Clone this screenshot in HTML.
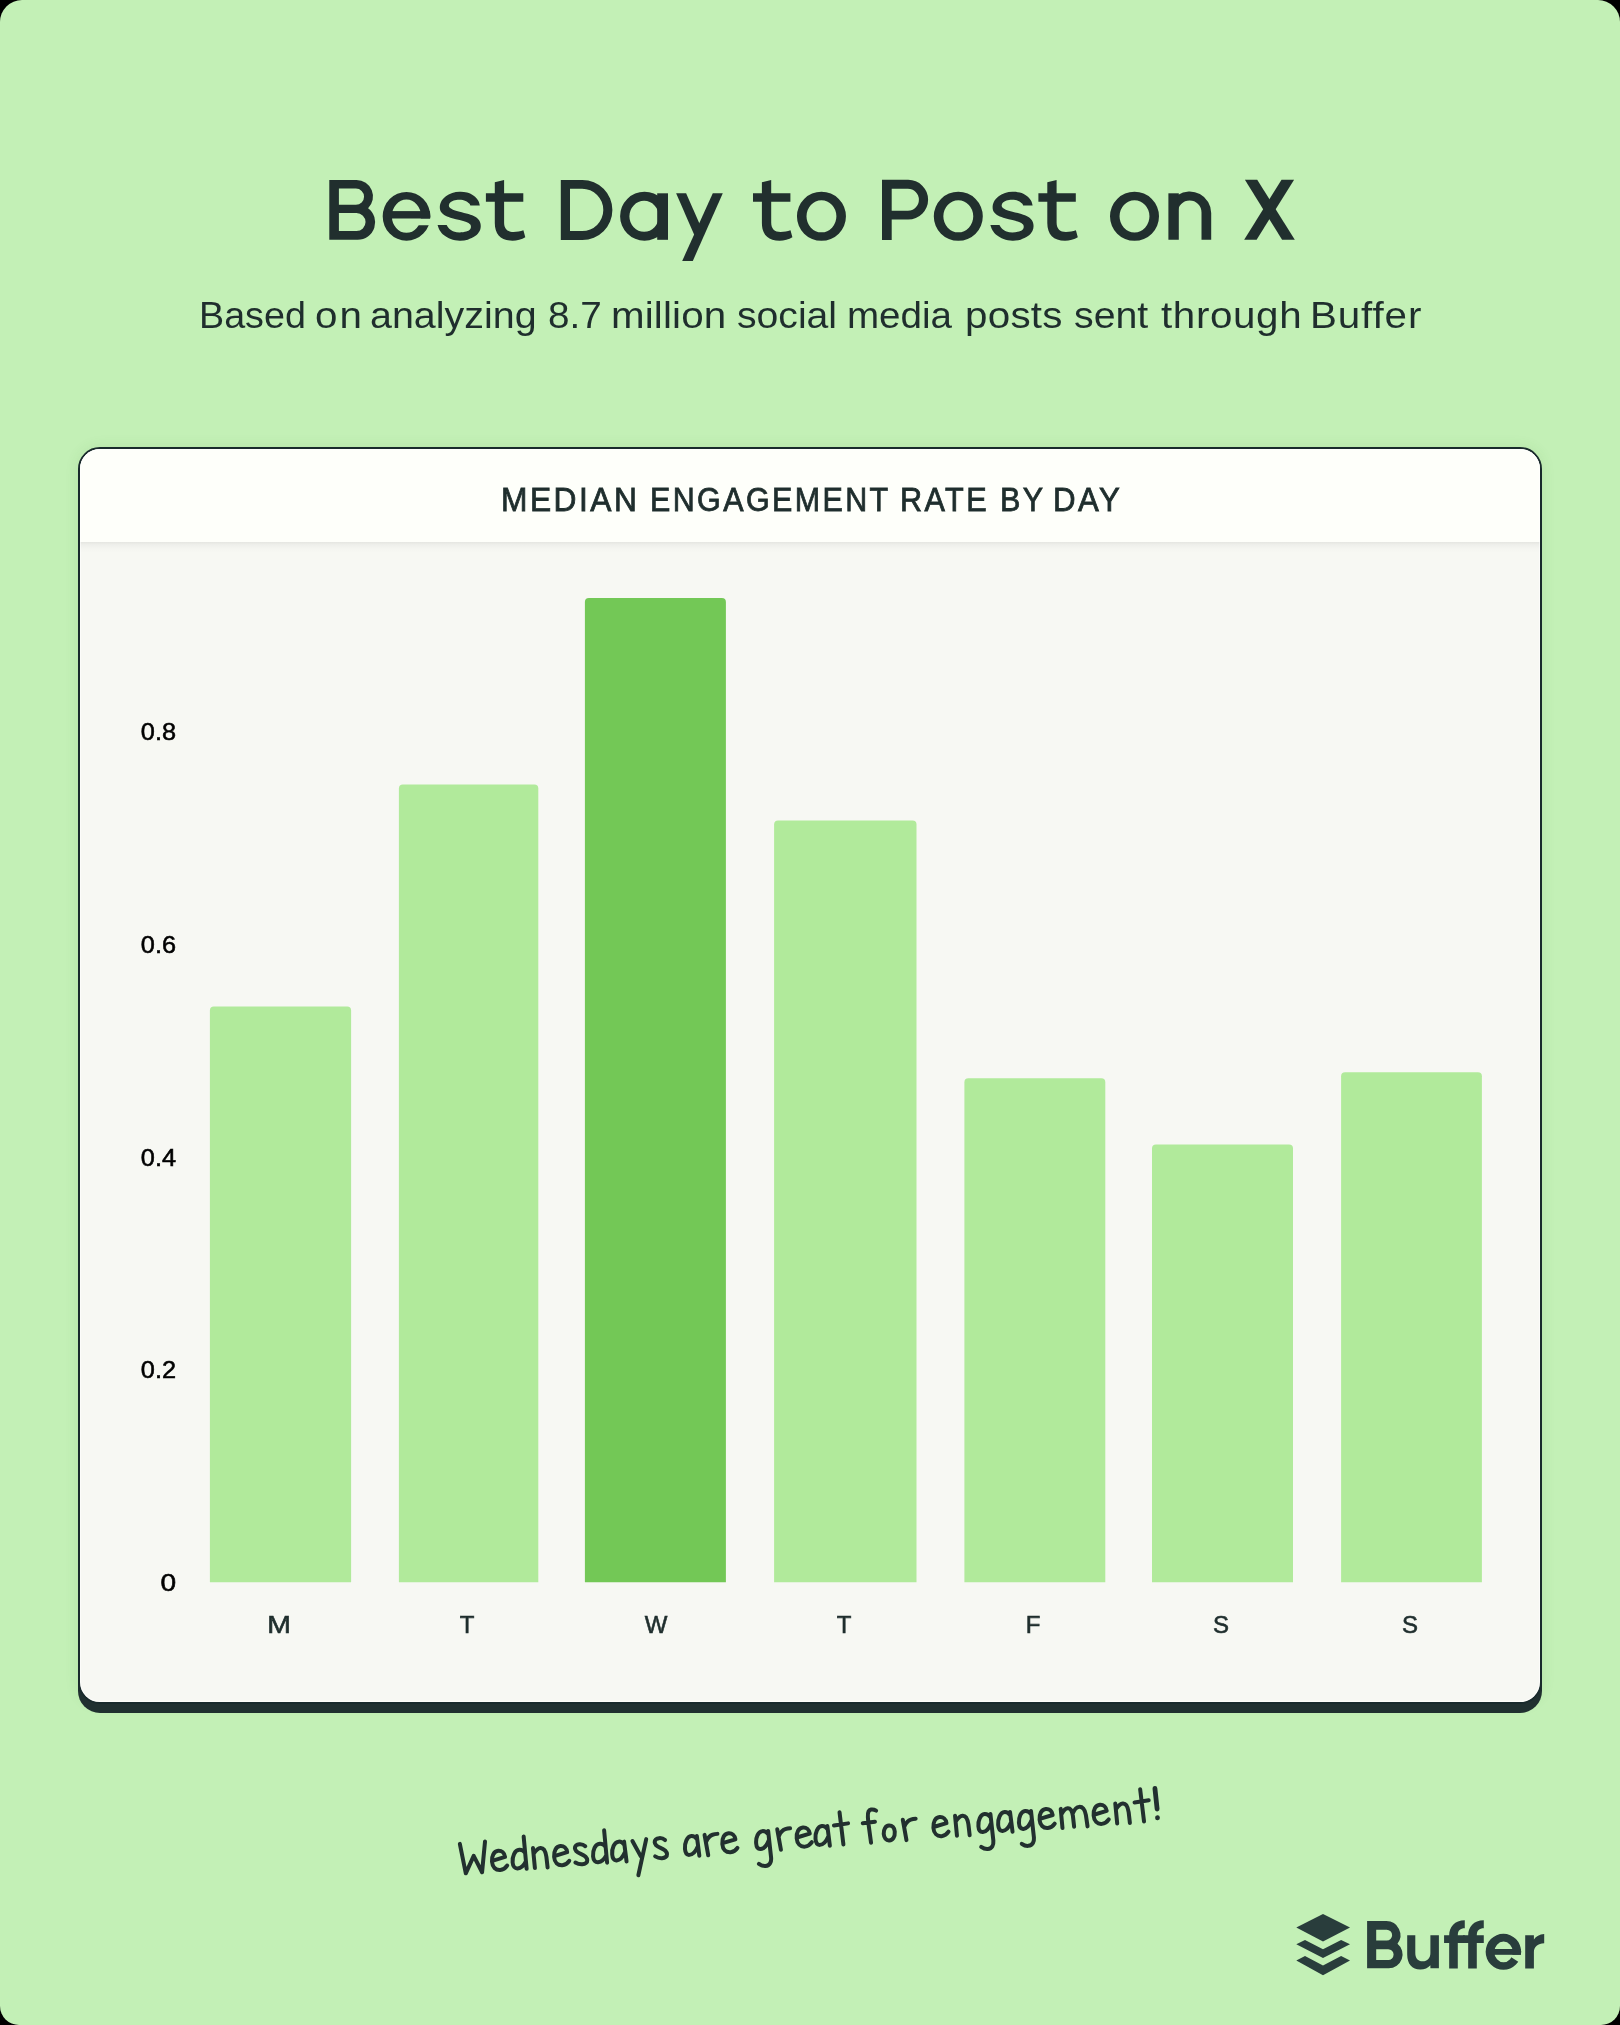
<!DOCTYPE html>
<html lang="en">
<head>
<meta charset="utf-8">
<title>Best Day to Post on X</title>
<style>
  html, body { margin: 0; padding: 0; background: #000; }
  body { width: 1620px; height: 2025px; overflow: hidden; position: relative;
         font-family: "Liberation Sans", sans-serif; }
  .page { position: absolute; left: 0; top: 0; width: 1620px; height: 2025px;
          background: #c3f0b6; border-radius: 22px 22px 19px 19px; overflow: hidden; will-change: transform; }
  .abs { position: absolute; white-space: nowrap; }
  .sw { position: absolute; top: 290.5px; white-space: nowrap; color: #1f2e2d;
        font-size: 36px; line-height: 50px; transform-origin: 0 0; }
  .card { position: absolute; left: 78px; top: 447px; width: 1460px; height: 1253px;
          border: 2px solid #192a2c; border-radius: 22px; background: #f7f8f3;
          box-shadow: 0 9px 0 0 #203030, 0 0 14px rgba(60,120,40,0.10); overflow: hidden; }
  .card-head { position: absolute; left: 0; top: 0; width: 100%; height: 93px; background: #fefffa; }
  .card-head::after { content: ""; position: absolute; left: 0; top: 93px; width: 100%; height: 11px;
          background: linear-gradient(rgba(0,0,0,0.075), rgba(0,0,0,0.035) 25%, rgba(0,0,0,0.012) 60%, rgba(0,0,0,0)); }
  .card::after { content: ""; position: absolute; left: 0; top: 0; right: 0; bottom: 0; border-radius: 20px;
          box-shadow: inset 0 0 0 1px rgba(255,255,255,0.6); pointer-events: none; }
  .card-head span { position: absolute; top: 31px; white-space: nowrap; transform-origin: 0 0;
          font-size: 33px; line-height: 40px; letter-spacing: 2.6px; color: #1f2e2d;
          -webkit-text-stroke: 0.8px #1f2e2d; }
  .yl { position: absolute; width: 60px; text-align: right; color: #000; font-size: 23px; line-height: 24px;
        transform-origin: 100% 50%; transform: scaleX(1.10); -webkit-text-stroke: 0.55px #000; }
  .xl { position: absolute; width: 60px; text-align: center; color: #1f2e2d; font-size: 24px; line-height: 24px;
        -webkit-text-stroke: 0.6px #1f2e2d; }
</style>
</head>
<body>
<div class="page">
  <!-- title: Best Day to Post on X -->
  <svg class="abs" style="left:300px; top:160px;" width="1020" height="120" viewBox="300 160 1020 120" role="img" aria-label="Best Day to Post on X">
   <title>Best Day to Post on X</title>
   <g fill="#212f2e" fill-rule="evenodd">
    <path d="M329.3,180 H356.50 A16.50,16.50 0 0 1 368.10,208.23 A17.50,17.50 0 0 1 357.70,239.8 H329.3 Z M338.9,188.5 V204.8 H355.9 A8.15,8.15 0 0 0 355.9,188.5 Z M338.9,213 V231.1 H356.5 A9.05,9.05 0 0 0 356.5,213 Z"/>
    <clipPath id="eclip"><path d="M370,170 H440 V218.5 H406.5 V225.2 H440 V260 H370 Z"/></clipPath>
    <clipPath id="eout"><ellipse cx="406.5" cy="216.3" rx="23.8" ry="24.4"/></clipPath>
    <path d="M382.70,216.30 A23.80,24.40 0 1 0 430.30,216.30 A23.80,24.40 0 1 0 382.70,216.30 Z M391.90,216.20 A14.55,16.60 0 1 1 421.00,216.20 A14.55,16.60 0 1 1 391.90,216.20 Z" clip-path="url(#eclip)"/>
    <rect x="386" y="211.1" width="46" height="7.4" clip-path="url(#eout)"/>
    <path d="M479.81,205.56 C479.54,204.72 479.17,202.19 478.15,200.56 C477.13,198.92 475.56,197.07 473.70,195.74 C471.85,194.41 469.38,193.24 467.04,192.59 C464.69,191.94 462.10,191.79 459.63,191.85 C457.16,191.91 454.57,192.19 452.22,192.96 C449.88,193.73 447.41,195.03 445.56,196.48 C443.70,197.93 442.07,199.88 441.11,201.67 C440.15,203.46 439.81,205.49 439.81,207.22 C439.81,208.95 440.15,210.62 441.11,212.04 C442.07,213.46 443.70,214.72 445.56,215.74 C447.41,216.76 449.88,217.44 452.22,218.15 C454.57,218.86 457.28,219.35 459.63,220.00 C461.98,220.65 464.57,221.33 466.30,222.04 C468.02,222.75 469.23,223.46 470.00,224.26 C470.77,225.06 470.93,225.99 470.93,226.85 C470.93,227.72 470.77,228.67 470.00,229.44 C469.23,230.22 468.02,230.99 466.30,231.48 C464.57,231.98 461.73,232.41 459.63,232.41 C457.53,232.41 455.43,232.10 453.70,231.48 C451.98,230.86 450.43,229.78 449.26,228.70 C448.09,227.62 447.10,225.62 446.67,225.00 L437.59,225.00 C437.93,225.86 438.55,228.46 439.63,230.19 C440.71,231.91 442.22,233.89 444.07,235.37 C445.93,236.85 448.15,238.18 450.74,239.07 C453.33,239.97 456.79,240.65 459.63,240.74 C462.47,240.83 465.19,240.40 467.78,239.63 C470.37,238.86 473.21,237.56 475.19,236.11 C477.16,234.66 478.70,232.65 479.63,230.93 C480.56,229.20 480.80,227.47 480.74,225.74 C480.68,224.01 480.19,222.04 479.26,220.56 C478.33,219.07 476.98,217.93 475.19,216.85 C473.40,215.77 471.11,214.94 468.52,214.07 C465.93,213.21 462.22,212.41 459.63,211.67 C457.04,210.93 454.63,210.31 452.96,209.63 C451.30,208.95 450.31,208.33 449.63,207.59 C448.95,206.85 448.80,206.02 448.89,205.19 C448.98,204.35 449.38,203.36 450.19,202.59 C450.99,201.82 452.13,201.02 453.70,200.56 C455.28,200.09 457.65,199.75 459.63,199.81 C461.60,199.88 463.95,200.31 465.56,200.93 C467.16,201.54 468.46,202.75 469.26,203.52 C470.06,204.29 470.19,205.22 470.37,205.56 Z" transform="translate(0.0,0)"/>
    <path d="M479.81,205.56 C479.54,204.72 479.17,202.19 478.15,200.56 C477.13,198.92 475.56,197.07 473.70,195.74 C471.85,194.41 469.38,193.24 467.04,192.59 C464.69,191.94 462.10,191.79 459.63,191.85 C457.16,191.91 454.57,192.19 452.22,192.96 C449.88,193.73 447.41,195.03 445.56,196.48 C443.70,197.93 442.07,199.88 441.11,201.67 C440.15,203.46 439.81,205.49 439.81,207.22 C439.81,208.95 440.15,210.62 441.11,212.04 C442.07,213.46 443.70,214.72 445.56,215.74 C447.41,216.76 449.88,217.44 452.22,218.15 C454.57,218.86 457.28,219.35 459.63,220.00 C461.98,220.65 464.57,221.33 466.30,222.04 C468.02,222.75 469.23,223.46 470.00,224.26 C470.77,225.06 470.93,225.99 470.93,226.85 C470.93,227.72 470.77,228.67 470.00,229.44 C469.23,230.22 468.02,230.99 466.30,231.48 C464.57,231.98 461.73,232.41 459.63,232.41 C457.53,232.41 455.43,232.10 453.70,231.48 C451.98,230.86 450.43,229.78 449.26,228.70 C448.09,227.62 447.10,225.62 446.67,225.00 L437.59,225.00 C437.93,225.86 438.55,228.46 439.63,230.19 C440.71,231.91 442.22,233.89 444.07,235.37 C445.93,236.85 448.15,238.18 450.74,239.07 C453.33,239.97 456.79,240.65 459.63,240.74 C462.47,240.83 465.19,240.40 467.78,239.63 C470.37,238.86 473.21,237.56 475.19,236.11 C477.16,234.66 478.70,232.65 479.63,230.93 C480.56,229.20 480.80,227.47 480.74,225.74 C480.68,224.01 480.19,222.04 479.26,220.56 C478.33,219.07 476.98,217.93 475.19,216.85 C473.40,215.77 471.11,214.94 468.52,214.07 C465.93,213.21 462.22,212.41 459.63,211.67 C457.04,210.93 454.63,210.31 452.96,209.63 C451.30,208.95 450.31,208.33 449.63,207.59 C448.95,206.85 448.80,206.02 448.89,205.19 C448.98,204.35 449.38,203.36 450.19,202.59 C450.99,201.82 452.13,201.02 453.70,200.56 C455.28,200.09 457.65,199.75 459.63,199.81 C461.60,199.88 463.95,200.31 465.56,200.93 C467.16,201.54 468.46,202.75 469.26,203.52 C470.06,204.29 470.19,205.22 470.37,205.56 Z" transform="translate(552.8,0)"/>
    <path d="M494.80,182.2 L504.10,180 V193.2 H523.30 V201.85 H504.10 V222.5 C504.10,229 507.50,232 513.50,232 C517.10,232 520.30,231.4 523.40,230.3 L525.30,237.3 C521.90,239.5 516.90,240.7 512.50,240.7 C501.00,240.7 494.80,234.5 494.80,223 V201.85 H485.90 V193.2 H494.80 Z"/>
    <path d="M761.90,182.2 L771.20,180 V193.2 H790.40 V201.85 H771.20 V222.5 C771.20,229 774.60,232 780.60,232 C784.20,232 787.40,231.4 790.50,230.3 L792.40,237.3 C789.00,239.5 784.00,240.7 779.60,240.7 C768.10,240.7 761.90,234.5 761.90,223 V201.85 H753.00 V193.2 H761.90 Z"/>
    <path d="M1047.30,182.2 L1056.60,180 V193.2 H1075.80 V201.85 H1056.60 V222.5 C1056.60,229 1060.00,232 1066.00,232 C1069.60,232 1072.80,231.4 1075.90,230.3 L1077.80,237.3 C1074.40,239.5 1069.40,240.7 1065.00,240.7 C1053.50,240.7 1047.30,234.5 1047.30,223 V201.85 H1038.40 V193.2 H1047.30 Z"/>
    <path d="M560.8,180 H582.4 A30,30 0 0 1 582.4,240 H560.8 Z M570,188.7 V231.1 H582.1 A21.2,21.2 0 0 0 582.1,188.7 Z"/>
    <clipPath id="aclip"><rect x="600" y="170" width="68" height="90"/></clipPath>
    <path d="M620.10,216.20 A24.40,24.50 0 1 0 668.90,216.20 A24.40,24.50 0 1 0 620.10,216.20 Z M629.40,216.30 A14.70,15.40 0 1 1 658.80,216.30 A14.70,15.40 0 1 1 629.40,216.30 Z" clip-path="url(#aclip)"/>
    <rect x="657.2" y="193.3" width="10.8" height="46.5"/>
    <path d="M712.8,193.3 H722.8 L692.8,260.9 H682.2 Z"/>
    <path d="M676.1,193.3 H686.1 L701.4,227.9 L696.3,239.6 Z"/>
    <path d="M796.95,216.30 A24.50,24.55 0 1 0 845.95,216.30 A24.50,24.55 0 1 0 796.95,216.30 Z M806.50,216.30 A14.95,16.05 0 1 1 836.40,216.30 A14.95,16.05 0 1 1 806.50,216.30 Z"/>
    <path d="M933.80,216.30 A24.50,24.55 0 1 0 982.80,216.30 A24.50,24.55 0 1 0 933.80,216.30 Z M943.35,216.30 A14.95,16.05 0 1 1 973.25,216.30 A14.95,16.05 0 1 1 943.35,216.30 Z"/>
    <path d="M1110.00,216.30 A24.50,24.55 0 1 0 1159.00,216.30 A24.50,24.55 0 1 0 1110.00,216.30 Z M1119.55,216.30 A14.95,16.05 0 1 1 1149.45,216.30 A14.95,16.05 0 1 1 1119.55,216.30 Z"/>
    <path d="M882,179.8 H908.2 A19.9,19.9 0 0 1 908.2,219.6 H891.7 V239.9 H882 Z M891.7,188.7 V210.7 H907.9 A11,11 0 0 0 907.9,188.7 Z"/>
    <rect x="1168.4" y="193.3" width="10.4" height="46.45"/>
    <path d="M1177.8,194.95 A21.55,21.55 0 0 1 1211.2,212.95 V239.75 H1201.5 V212.4 A11.85,11.85 0 0 0 1177.8,212.4 Z"/>
    <path d="M1244.9,179.7 H1257.2 L1294.8,239.75 H1282.1 Z"/>
    <path d="M1281.5,179.7 H1294.1 L1256.6,239.75 H1244.2 Z"/>
   </g>
  </svg>
  <!-- subtitle -->
  <div class="sw" style="left:198.6px; transform:scaleX(1.047); letter-spacing:0.00px;">Based</div>
  <div class="sw" style="left:315.3px; transform:scaleX(1.120); letter-spacing:1.77px;">on</div>
  <div class="sw" style="left:370.3px; transform:scaleX(1.095); letter-spacing:0.00px;">analyzing</div>
  <div class="sw" style="left:547.5px; transform:scaleX(1.074); letter-spacing:0.00px;">8.7</div>
  <div class="sw" style="left:611.4px; transform:scaleX(1.120); letter-spacing:0.14px;">million</div>
  <div class="sw" style="left:737.2px; transform:scaleX(1.087); letter-spacing:0px;">social</div>
  <div class="sw" style="left:847.3px; transform:scaleX(1.071); letter-spacing:0.00px;">media</div>
  <div class="sw" style="left:964.6px; transform:scaleX(1.120); letter-spacing:0.25px;">posts</div>
  <div class="sw" style="left:1073.6px; transform:scaleX(1.091); letter-spacing:0.00px;">sent</div>
  <div class="sw" style="left:1160.6px; transform:scaleX(1.120); letter-spacing:0.57px;">through</div>
  <div class="sw" style="left:1310.4px; transform:scaleX(1.120); letter-spacing:0.80px;">Buffer</div>

  <div class="card">
    <div class="card-head"><span style="left:421.1px; transform:scaleX(0.962);">MEDIAN</span><span style="left:569.5px; transform:scaleX(0.923);">ENGAGEMENT</span><span style="left:819.8px; transform:scaleX(0.928);">RATE</span><span style="left:919.6px; transform:scaleX(0.925);">BY</span><span style="left:973.4px; transform:scaleX(0.946);">DAY</span></div>
  </div>

  <!-- bars (page coordinates) -->
  <svg class="abs" style="left:0; top:560px;" width="1620" height="1040" viewBox="0 560 1620 1040">
    <path d="M209.9,1582.2 L209.9,1010.4 Q209.9,1006.4 213.9,1006.4 L347.1,1006.4 Q351.1,1006.4 351.1,1010.4 L351.1,1582.2 Z" fill="#b1ea9b"/>
    <path d="M398.9,1582.2 L398.9,788.5 Q398.9,784.5 402.9,784.5 L534.3,784.5 Q538.3,784.5 538.3,788.5 L538.3,1582.2 Z" fill="#b1ea9b"/>
    <path d="M584.9,1582.2 L584.9,602.1 Q584.9,598.1 588.9,598.1 L721.9,598.1 Q725.9,598.1 725.9,602.1 L725.9,1582.2 Z" fill="#73c856"/>
    <path d="M774.1,1582.2 L774.1,824.5 Q774.1,820.5 778.1,820.5 L912.5,820.5 Q916.5,820.5 916.5,824.5 L916.5,1582.2 Z" fill="#b1ea9b"/>
    <path d="M964.4,1582.2 L964.4,1082.3 Q964.4,1078.3 968.4,1078.3 L1101.3,1078.3 Q1105.3,1078.3 1105.3,1082.3 L1105.3,1582.2 Z" fill="#b1ea9b"/>
    <path d="M1152.0,1582.2 L1152.0,1148.4 Q1152.0,1144.4 1156.0,1144.4 L1289.0,1144.4 Q1293.0,1144.4 1293.0,1148.4 L1293.0,1582.2 Z" fill="#b1ea9b"/>
    <path d="M1341.1,1582.2 L1341.1,1076.3 Q1341.1,1072.3 1345.1,1072.3 L1477.9,1072.3 Q1481.9,1072.3 1481.9,1076.3 L1481.9,1582.2 Z" fill="#b1ea9b"/>
  </svg>

  <!-- y labels -->
  <div class="yl" style="left:116px; top:719.5px;">0.8</div>
  <div class="yl" style="left:116px; top:932.5px;">0.6</div>
  <div class="yl" style="left:116px; top:1145.5px;">0.4</div>
  <div class="yl" style="left:116px; top:1358px;">0.2</div>
  <div class="yl" style="left:116px; top:1570.5px; transform:scaleX(1.22);">0</div>

  <!-- x labels -->
  <div class="xl" style="left:248.5px; top:1613px; transform:scaleX(1.18);">M</div>
  <div class="xl" style="left:437px; top:1613px;">T</div>
  <div class="xl" style="left:626px; top:1613px;">W</div>
  <div class="xl" style="left:814px; top:1613px;">T</div>
  <div class="xl" style="left:1003px; top:1613px;">F</div>
  <div class="xl" style="left:1191px; top:1613px;">S</div>
  <div class="xl" style="left:1380px; top:1613px;">S</div>

  <!-- handwritten note -->
  <svg class="abs" style="left:0; top:1760px;" width="1620" height="180" viewBox="0 1760 1620 180" role="img" aria-label="Wednesdays are great for engagement!">
    <title>Wednesdays are great for engagement!</title>
    <defs>
      <path id="hw0" d="M0,-29.5 L3.7,0.3 L12.9,-16.5 L20,0.5 L25.3,-30"/>
      <path id="hw1" d="M1.1,-10.3 L13.4,-13 C13.2,-17 10.5,-19.6 7,-19.6 C2.8,-19.6 0,-15.2 0,-9.3 C0,-3.8 3,-0.4 7.6,-0.4 C10.6,-0.4 13,-2 14.8,-4.3"/>
      <path id="hw2" d="M13,-32 L13.5,0.5 M13.2,-15.5 C11.5,-18.3 9.5,-19 7.6,-19 C3,-19 0,-13 0,-7 C0,-3 2,-0.6 4.5,-0.6 C8,-0.6 11,-3 13.3,-7"/>
      <path id="hw3" d="M12.8,-19.2 L13.8,0.7 M12.6,-16.3 C11,-18.8 9.5,-19.6 7.4,-19.6 C3,-19.6 0,-13.5 0,-7.3 C0,-3.3 1.6,-1 4,-1 C7.5,-1 10.5,-4 12.8,-8.5"/>
      <path id="hw4" d="M0,-19.8 L0.4,0.4 M0.5,-14.3 C3,-17.5 5,-19.2 7.5,-19.2 C11,-19.2 12.3,-15.5 12.7,-10 L13.1,0.8"/>
      <path id="hw5" d="M11.1,-17.6 C9.5,-19.3 7.5,-20 5.4,-20 C2.5,-20 0.6,-18.5 0.6,-16.4 C0.6,-13.5 2.5,-12 5.5,-10.5 C9,-8.8 12,-7 12,-3.5 C12,-1.2 9.8,0.2 6.8,0.2 C4,0.2 1.8,-0.8 0,-2.1"/>
      <path id="hw6" d="M0,-19.1 L7.2,-3.2 M13.9,-20 L3.3,15.4"/>
      <path id="hw7" d="M0,-19.8 L2.1,0.9 M1.1,-12.9 C3,-16.5 5,-18.6 8,-19.3 C9.8,-19.7 11.5,-19.8 12.9,-19.8"/>
      <path id="hw8" d="M12.4,-15.9 C11,-18.2 9,-19.1 7,-19.1 C3,-19.1 0,-13.5 0,-7.4 C0,-3.5 1.6,-1.4 4,-1.4 C7.5,-1.4 10.5,-4.5 13,-9.8 M12.9,-18.7 L13.8,8.2 C13.8,12 12.2,15.9 7.5,15.9 C5,15.9 3,14.8 1.2,13.3"/>
      <path id="hw9" d="M6.6,-32 L8,0.5 M0,-19.2 L14.3,-20.3"/>
      <path id="hw10" d="M14.3,-30.9 C12.8,-32 11,-32.5 9.4,-32.4 C6.5,-32 5.6,-29 5.6,-25 L5.6,-19.9 L6.8,0.8 M0,-19.2 L12.3,-19.9"/>
      <path id="hw11" d="M5.8,-15 C2.5,-15 0,-11.5 0,-7 C0,-3 2,-0.1 5,-0.1 C8.5,-0.1 11.2,-3.5 11.2,-8.5 C11.2,-12.5 9,-15 5.8,-15 Z"/>
      <path id="hw12" d="M0,-18.5 L0.3,0.8 M0.5,-13.4 C2.5,-16.5 4.5,-18.7 7,-18.7 C10,-18.7 11.2,-15.5 11.6,-10.9 L12,0.4 M11.8,-13.4 C13.5,-16.5 16,-19.1 18.5,-19.1 C22,-19.1 24,-15.5 24.6,-10.7 L25.4,1"/>
      <path id="hw13" d="M0,-31.7 L0.6,-10.9 M0.3,-2.3 L0.3,-2.1"/>
    </defs>
    <g transform="translate(458,1873.6) rotate(-4.38)" fill="none" stroke="#22302f" stroke-width="4" stroke-linecap="round" stroke-linejoin="round">
      <use href="#hw0" x="4.1"/>
      <use href="#hw1" x="34.8"/>
      <use href="#hw2" x="55.3"/>
      <use href="#hw4" x="76.7"/>
      <use href="#hw1" x="97.1"/>
      <use href="#hw5" x="117.9"/>
      <use href="#hw2" x="136.0"/>
      <use href="#hw3" x="155.2"/>
      <use href="#hw6" x="176.4"/>
      <use href="#hw5" x="197.9"/>
      <use href="#hw3" x="228.2"/>
      <use href="#hw7" x="248.8"/>
      <use href="#hw1" x="265.8"/>
      <use href="#hw8" x="299.6"/>
      <use href="#hw7" x="321.7"/>
      <use href="#hw1" x="340.4"/>
      <use href="#hw3" x="359.1"/>
      <use href="#hw9" x="378.5"/>
      <use href="#hw10" x="407.4"/>
      <use href="#hw11" x="427.5"/>
      <use href="#hw7" x="447.6"/>
      <use href="#hw1" x="477.5"/>
      <use href="#hw4" x="500.0"/>
      <use href="#hw8" x="522.5"/>
      <use href="#hw3" x="542.3"/>
      <use href="#hw8" x="563.2"/>
      <use href="#hw1" x="584.0"/>
      <use href="#hw12" x="605.9"/>
      <use href="#hw1" x="638.2"/>
      <use href="#hw4" x="660.7"/>
      <use href="#hw9" x="680.0"/>
      <use href="#hw13" x="701.4" stroke-width="4.8"/>
    </g>
  </svg>

  <!-- Buffer logo -->
  <svg class="abs" style="left:1290px; top:1905px;" width="270" height="80" viewBox="1290 1905 270 80" role="img" aria-label="Buffer">
    <title>Buffer</title>
    <g fill="#293d3c">
      <polygon points="1323,1914 1350,1927.6 1323,1941.5 1296.3,1927.6"/>
      <polygon points="1296.3,1944.3 1305,1940 1323,1949.3 1341.1,1940 1350,1944.3 1323,1958.1"/>
      <polygon points="1296.3,1960.4 1305,1956.1 1323,1965.4 1341.1,1956.1 1350,1960.4 1323,1975.2"/>
    </g>
    <g fill="#293d3c" fill-rule="evenodd">
      <path d="M1367.1,1921.1 H1386.35 A14.05,14.05 0 0 1 1397.49,1943.71 A13.85,13.85 0 0 1 1388.75,1968.3 H1367.1 Z M1376.2,1929.75 V1940.6 H1386.7 A5.42,5.42 0 0 0 1386.7,1929.75 Z M1376.2,1949.2 V1960 H1388.2 A5.4,5.4 0 0 0 1388.2,1949.2 Z"/>
      <path d="M1407.2,1935.2 H1415.3 V1953 C1415.3,1958.5 1418,1961.3 1422.6,1961.3 C1427.5,1961.3 1430.4,1958 1430.4,1953 V1935.2 H1438.9 V1968.3 H1430.4 V1965.2 C1428,1968 1424.5,1969.6 1420.3,1969.6 C1412,1969.6 1407.2,1964 1407.2,1954.5 Z"/>
      <path d="M1449.17,1968.53 L1449.17,1943.07 L1444.07,1943.07 L1444.07,1935.26 L1449.17,1935.26 C1449.17,1926.98 1454.60,1920.19 1464.78,1920.19 L1464.78,1928.33 C1460.37,1928.33 1457.79,1930.37 1457.79,1935.26 L1464.78,1935.26 L1464.78,1943.07 L1457.79,1943.07 L1457.79,1968.53 Z"/>
      <path d="M1468.17,1968.53 L1468.17,1943.07 L1463.07,1943.07 L1463.07,1935.26 L1468.17,1935.26 C1468.17,1926.98 1473.60,1920.19 1483.78,1920.19 L1483.78,1928.33 C1479.37,1928.33 1476.79,1930.37 1476.79,1935.26 L1483.78,1935.26 L1483.78,1943.07 L1476.79,1943.07 L1476.79,1968.53 Z"/>
      <clipPath id="leclip"><path clip-rule="evenodd" d="M1470,1900 H1540 V1990 H1470 Z M1507.4,1954.8 L1535,1972.5 V1954.8 Z"/></clipPath>
      <clipPath id="leout"><ellipse cx="1503.4" cy="1951.8" rx="17.75" ry="18"/></clipPath>
      <path d="M1485.65,1951.80 A17.75,18.00 0 1 0 1521.15,1951.80 A17.75,18.00 0 1 0 1485.65,1951.80 Z M1494.30,1951.95 A9.25,10.35 0 1 1 1512.80,1951.95 A9.25,10.35 0 1 1 1494.30,1951.95 Z" clip-path="url(#leclip)"/>
      <rect x="1490" y="1949" width="34" height="5.8" clip-path="url(#leout)"/>
      <path d="M1525.2,1935.3 H1533.9 V1939.6 C1536,1936.4 1539.5,1934.3 1544.2,1934.1 V1943.3 C1538,1943.4 1533.9,1946.6 1533.9,1952.2 V1968.5 H1525.2 Z"/>
    </g>
  </svg>
</div>
</body>
</html>
